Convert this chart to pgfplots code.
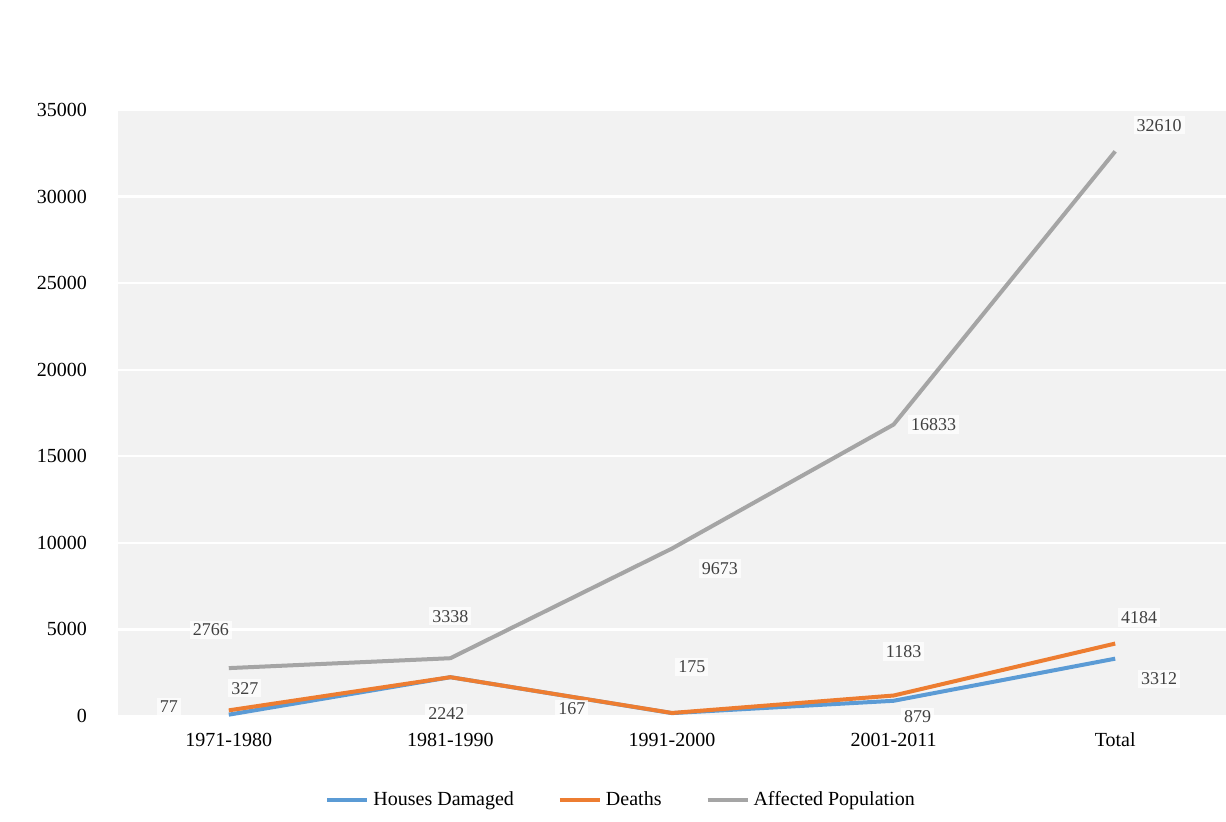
\documentclass[border=0pt]{standalone}
\usepackage{pgfplots}
\pgfplotsset{compat=1.18}
\usepackage{fontspec}
\setmainfont{Liberation Serif}
\definecolor{cblue}{HTML}{5B9BD5}
\definecolor{corange}{HTML}{ED7D31}
\definecolor{cgray}{HTML}{A5A5A5}
\definecolor{bgg}{HTML}{F2F2F2}
\definecolor{txt}{HTML}{404040}
\begin{document}
\begin{tikzpicture}
\path[use as bounding box, fill=white] (-59pt,-52.5pt) rectangle (554pt,358pt);
\begin{axis}[
  scale only axis, width=554pt, height=303pt,
  at={(0,0)}, anchor=south west,
  xmin=-0.5, xmax=4.5, ymin=0, ymax=35000,
  xtick={0,1,2,3,4},
  xticklabels={1971-1980,1981-1990,1991-2000,2001-2011,Total},
  ytick={0,5000,10000,15000,20000,25000,30000,35000},
  scaled y ticks=false,
  yticklabel={\pgfmathprintnumber[fixed,precision=0,1000 sep={}]{\tick}},
  /pgf/number format/1000 sep={},
  /pgf/number format/assume math mode=true,
  tick style={draw=none},
  axis line style={draw=none},
  axis background/.style={fill=bgg},
  ymajorgrids, grid style={draw=white, line width=1.2pt},
  tick label style={font=\fontsize{10}{12}\selectfont, text=black},
  yticklabel style={xshift=-12pt},
  xticklabel style={yshift=-5pt},
  legend columns=3,
  legend style={at={(0.455,-0.139)}, anchor=center, draw=none, fill=none,
    font=\fontsize{10}{12}\selectfont, /tikz/every even column/.append style={column sep=20pt}},
  legend image code/.code={\draw[#1, line width=2pt] (0pt,0pt) -- (20pt,0pt);},
  clip=false,
]
\addplot[cblue, line width=2pt, mark=none] coordinates {(0,77) (1,2242) (2,167) (3,879) (4,3312)};
\addlegendentry{Houses Damaged}
\addplot[corange, line width=2pt, mark=none] coordinates {(0,327) (1,2242) (2,175) (3,1183) (4,4184)};
\addlegendentry{Deaths}
\addplot[cgray, line width=2pt, mark=none] coordinates {(0,2766) (1,3338) (2,9673) (3,16833) (4,32610)};
\addlegendentry{Affected Population}
\tikzset{lab/.style={font=\fontsize{9}{11}\selectfont, text=txt, fill=white, fill opacity=0.7, text opacity=1, inner sep=1.5pt}}
% gray labels
\node[lab] at ([shift={(-9pt,19pt)}]axis cs:0,2766) {2766};
\node[lab] at ([shift={(0pt,21pt)}]axis cs:1,3338) {3338};
\node[lab] at ([shift={(24pt,-10pt)}]axis cs:2,9673) {9673};
\node[lab] at ([shift={(20pt,0pt)}]axis cs:3,16833) {16833};
\node[lab] at ([shift={(22pt,13pt)}]axis cs:4,32610) {32610};
% blue/orange labels
\node[lab] at ([shift={(-30pt,4pt)}]axis cs:0,77) {77};
\node[lab] at ([shift={(8pt,11pt)}]axis cs:0,327) {327};
\node[lab] at ([shift={(-2pt,-18pt)}]axis cs:1,2242) {2242};
\node[lab] at ([shift={(-50pt,2pt)}]axis cs:2,167) {167};
\node[lab] at ([shift={(10pt,23pt)}]axis cs:2,175) {175};
\node[lab] at ([shift={(5pt,22pt)}]axis cs:3,1183) {1183};
\node[lab] at ([shift={(12pt,-8pt)}]axis cs:3,879) {879};
\node[lab] at ([shift={(12pt,13pt)}]axis cs:4,4184) {4184};
\node[lab] at ([shift={(22pt,-10pt)}]axis cs:4,3312) {3312};
\end{axis}
\end{tikzpicture}
\end{document}
